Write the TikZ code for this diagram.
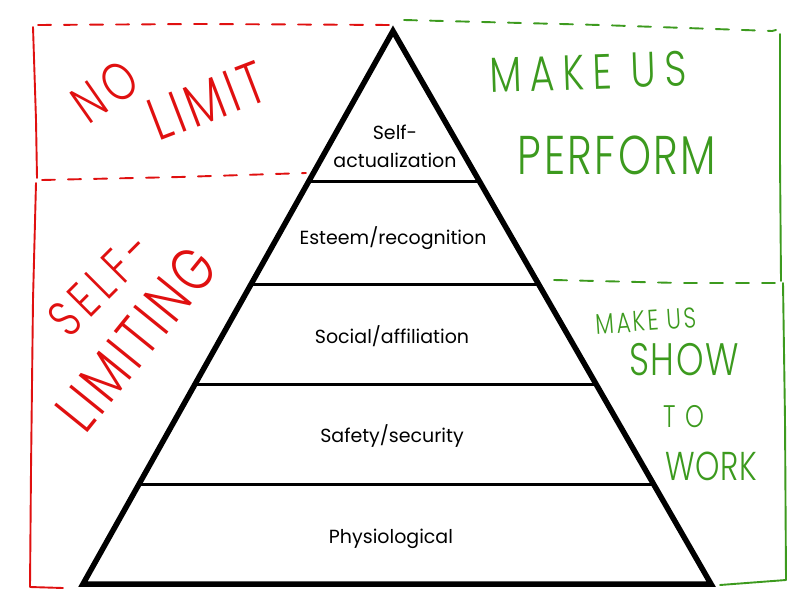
\documentclass[tikz,border=0pt]{standalone}
\usepackage{fontspec}
\setmainfont{Poppins}
\newfontfamily\hand{Poppins Light}
\usetikzlibrary{calc}
\definecolor{penred}{HTML}{E01010}
\definecolor{pengreen}{HTML}{3C9A1E}
% a pen word: size, letter spacing, vertical stretch, text
\newcommand\penword[4]{{\hand\fontsize{#1}{#1}\selectfont\addfontfeature{LetterSpace=#2}\scalebox{1}[#3]{#4}}}
\tikzset{
  redpen/.style={draw=penred, line width=1.9pt, line cap=round, line join=round},
  greenpen/.style={draw=pengreen, line width=1.9pt, line cap=round, line join=round},
  pendash/.style={dash pattern=on 13pt off 13pt},
  redword/.style={text=penred, inner sep=0pt},
  greenword/.style={text=pengreen, inner sep=0pt},
  tier/.style={draw=black, line width=2.8pt},
  tierlabel/.style={inner sep=0pt, align=center, font=\fontsize{19}{28}\selectfont}
}
\begin{document}
\begin{tikzpicture}[x=1pt,y=-1pt]
  \fill[white] (0,0) rectangle (800,607);
  \useasboundingbox (0,0) rectangle (800,607);

  % pyramid outline
  \coordinate (apex) at (393,31);
  \coordinate (bl) at (83,584);
  \coordinate (br) at (711,584);

  % tier boundaries
  \foreach \t/\n in {0.2726/a,0.4585/b,0.6390/c,0.8195/d}{
    \coordinate (l\n) at ($(apex)!\t!(bl)$);
    \coordinate (r\n) at ($(apex)!\t!(br)$);
    \draw[tier] (l\n) -- (r\n);
  }
  \draw[black, line width=5.5pt, line join=miter] (apex) -- (bl) -- (br) -- cycle;

  % tier labels
  \node[tierlabel] (selfact) at (395,146) {Self-\\actualization};
  \node[tierlabel] (esteem) at (393,238) {Esteem/recognition};
  \node[tierlabel] (social) at (392,336) {Social/affiliation};
  \node[tierlabel] (safety) at (392,436) {Safety/security};
  \node[tierlabel] (physio) at (391,539) {Physiological};

  % red bracket on the left
  \draw[redpen, pendash] (38,25) -- (200,24) -- (392,25);
  \draw[redpen, pendash] (42,180) -- (180,177) -- (306,173);
  \draw[redpen] (33,27) -- (36,120) -- (37,178);
  \draw[redpen] (36,183) -- (33,300) -- (31,470) -- (30,587) -- (63,588);

  % green bracket on the right
  \draw[greenpen, pendash] (404,20) -- (600,25) -- (772,31);
  \draw[greenpen] (772,31) -- (776,30);
  \draw[greenpen] (780,34) -- (780,160) -- (781,281);
  \draw[greenpen, pendash] (554,280) -- (680,283) -- (779,283);
  \draw[greenpen] (783,283) -- (785,420) -- (786,580) -- (720,585);

  % handwritten notes
  \node[redword, rotate=35] (no) at (105,91) {\penword{41}{12}{1.3}{NO}};
  \node[redword, rotate=21] (limit) at (207,101) {\penword{46}{9}{1.3}{LIMIT}};
  \node[redword, rotate=45] (selfw) at (100,284) {\penword{39}{16}{1.3}{SELF-}};
  \node[redword, rotate=51] (limiting) at (136,339) {\penword{47}{9}{1.3}{LIMITING}};
  \node[greenword, rotate=2] (makeus) at (588,72) {\penword{38}{22}{1.3}{MAKE US}};
  \node[greenword] (perform) at (617,155) {\penword{42}{6}{1.3}{PERFORM}};
  \node[greenword, rotate=4] (makeus2) at (646,321) {\penword{22}{10}{1.3}{MAKE US}};
  \node[greenword] (show) at (684,360) {\penword{35}{4}{1.3}{SHOW}};
  \node[greenword] (to) at (684,417) {\penword{24}{40}{1.3}{TO}};
  \node[greenword] (work) at (711,466) {\penword{31}{2}{1.3}{WORK}};
\end{tikzpicture}
\end{document}
